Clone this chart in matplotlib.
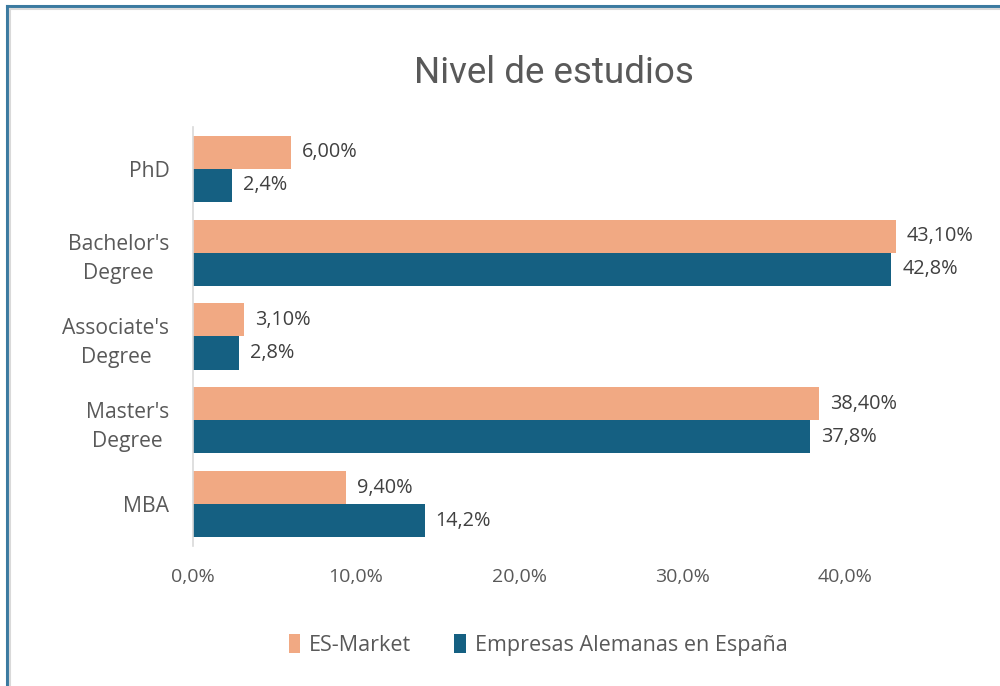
import matplotlib
matplotlib.use("Agg")
import matplotlib.pyplot as plt
from matplotlib.lines import Line2D
from matplotlib.patches import Patch
import numpy as np

plt.rcParams['font.family'] = ['Open Sans', 'DejaVu Sans']

categories = ["PhD", "Bachelor's\nDegree", "Associate's\nDegree", "Master's\nDegree", "MBA"]
es_market = [6.00, 43.10, 3.10, 38.40, 9.40]
empresas = [2.4, 42.8, 2.8, 37.8, 14.2]
es_labels = ["6,00%", "43,10%", "3,10%", "38,40%", "9,40%"]
emp_labels = ["2,4%", "42,8%", "2,8%", "37,8%", "14,2%"]
xticks = [0, 10, 20, 30, 40]
xtick_labels = ["0,0%", "10,0%", "20,0%", "30,0%", "40,0%"]
series_names = ["ES-Market", "Empresas Alemanas en España"]

c_orange = "#F1A983"
c_blue = "#156082"
txt = "#595959"

fig = plt.figure(figsize=(10, 6.86), dpi=100)
ax = fig.add_axes([0.193, 0.204, 0.734, 0.611])

n = len(categories)
y = np.arange(n)
h = 0.395
ax.barh(y - h / 2, es_market, height=h, color=c_orange)
ax.barh(y + h / 2, empresas, height=h, color=c_blue)

for yi, v, lab in zip(y, es_market, es_labels):
    ax.annotate(lab, (v, yi - h / 2), xytext=(8, 0), textcoords='offset points',
                va='center', ha='left', fontsize=14.3, color="#404040")
for yi, v, lab in zip(y, empresas, emp_labels):
    ax.annotate(lab, (v, yi + h / 2), xytext=(8, 0), textcoords='offset points',
                va='center', ha='left', fontsize=14.3, color="#404040")

ax.set_ylim(n - 0.5, -0.5)
ax.set_xlim(0, 45)
ax.set_yticks(y)
ax.set_yticklabels(categories, fontsize=15.2, color=txt, multialignment='center',
                   linespacing=1.5)
ax.set_xticks(xticks)
ax.set_xticklabels(xtick_labels, fontsize=14, color=txt)
ax.tick_params(axis='y', length=0, pad=17)
ax.tick_params(axis='x', length=0, pad=16)
for s in ['top', 'right', 'bottom']:
    ax.spines[s].set_visible(False)
ax.spines['left'].set_color("#D9D9D9")
ax.spines['left'].set_linewidth(1.2)

fig.text(0.554, 0.894, "Nivel de estudios", ha='center', va='center', fontsize=26.5,
         color=txt, family=['Roboto', 'DejaVu Sans'])

handles = [Patch(facecolor=c_orange), Patch(facecolor=c_blue)]
fig.legend(handles, series_names, loc='center', bbox_to_anchor=(0.538, 0.06), ncol=2,
           frameon=False, fontsize=15.5, handlelength=0.55, handleheight=1.0,
           handletextpad=0.4, columnspacing=2.0, labelcolor=txt)

# chart border (top and left visible)
fig.add_artist(Line2D([0.007, 1.0], [1 - 6 / 686, 1 - 6 / 686], color="#3B7AA0", lw=2.2,
                      transform=fig.transFigure))
fig.add_artist(Line2D([0.007, 0.007], [0, 1 - 6 / 686], color="#3B7AA0", lw=2.2,
                      transform=fig.transFigure))
fig.add_artist(Line2D([0.0095, 1.0], [1 - 9 / 686, 1 - 9 / 686], color="#D9D9D9", lw=1.5,
                      transform=fig.transFigure))
fig.add_artist(Line2D([0.0095, 0.0095], [0, 1 - 9 / 686], color="#D9D9D9", lw=1.5,
                      transform=fig.transFigure))

fig.savefig("out.png", dpi=100)
